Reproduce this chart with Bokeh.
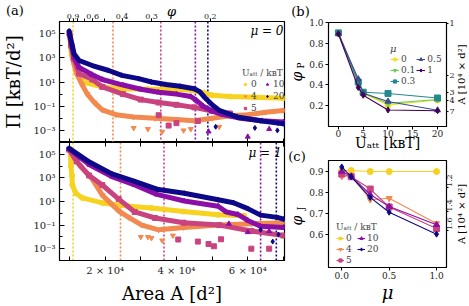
import math
from bokeh.plotting import figure
from bokeh.layouts import row, column
from bokeh.models import (Range1d, LinearAxis, LogAxis, FixedTicker, CustomJSTickFormatter,
                          Label, Legend, LegendItem, Span)
from bokeh.core.properties import value
from bokeh.embed import file_html
from bokeh.resources import INLINE

# ======================= DATA =======================
U_att = [0, 4, 5, 10, 20]
U_labels = ["0", "4", "5", "10", "20"]
mu_vals = [0, 0.1, 0.3, 0.5, 1.0]
mu_labels = ["0", "0.1", "0.3", "0.5", "1"]

# (a) upper: mu = 0, area A [d^2] vs pressure Pi [kBT/d^2]
A_m0_u0 = [10000, 10300, 10600, 11300, 12000, 12700, 14500, 19000, 25000, 32000, 39000, 44000, 47500, 50000, 55000, 62000, 70000]
P_m0_u0 = [1.0e5, 1.0e4, 1.6e3, 3.2e2, 63, 25, 8.9, 4.0, 2.8, 2.5, 2.5, 2.2, 1.3, 0.8, 0.63, 0.54, 0.45]
A_m0_u4 = [10000, 10500, 11000, 12000, 13500, 15000, 17000, 19200, 23000, 28000, 34000, 40000, 45000, 50000, 55000, 60000, 65000, 70000]
P_m0_u4 = [1.0e5, 6.3e3, 6.3e2, 50, 6.3, 1.0, 0.2, 0.05, 0.02, 0.013, 0.01, 0.008, 0.0063, 0.01, 0.016, 0.02, 0.032, 0.045]
A_m0_u5 = [10000, 10500, 11300, 12700, 16400, 19200, 25000, 30000, 35000, 40000, 45000, 50000, 55000]
P_m0_u5 = [1.0e5, 1.0e4, 8.0e2, 50, 16, 4.0, 1.0, 0.35, 0.2, 0.13, 0.08, 0.04, 0.025]
A_m0_u10 = [10000, 10500, 11300, 12700, 16400, 19200, 25000, 30000, 35000, 40000, 44000, 45500, 47500, 50000, 53000, 58000, 64000, 70000]
P_m0_u10 = [1.0e5, 1.6e4, 1.1e3, 1.6e2, 40, 16, 5.6, 2.5, 1.4, 1.0, 0.63, 0.32, 0.1, 0.04, 0.02, 0.01, 0.0063, 0.005]
A_m0_u20 = [9900, 10300, 10800, 11300, 12700, 16400, 21000, 24700, 29400, 33000, 37000, 41000, 45000, 46500, 48000, 50000, 52000, 57000, 63500, 68500, 70000]
P_m0_u20 = [1.6e5, 4.0e4, 1.0e4, 2.1e3, 6.0e2, 2.3e2, 89, 35, 19, 10, 6.3, 4.5, 2.8, 1.6, 0.5, 0.13, 0.045, 0.013, 0.0063, 0.004, 0.0035]
# scattered low points (mu = 0)
A_m0_u4_out = [28000, 32000, 36000, 42000, 44000, 52000]
P_m0_u4_out = [0.0016, 0.0013, 0.0008, 0.001, 0.0013, 0.002]
A_m0_u5_out = [35000, 37800, 40000, 46000]
P_m0_u5_out = [0.018, 0.0025, 0.004, 0.006]
A_m0_u10_out = [49000, 60000, 66000]
P_m0_u10_out = [0.0008, 0.0003, 0.0013]
A_m0_u20_out = [51000, 62000, 68300]
P_m0_u20_out = [0.002, 0.0016, 0.001]

# (a) lower: mu = 1
A_m1_u0 = [10300, 10400, 10700, 10800, 11800, 13600, 19200, 26600, 33000, 42000, 51600, 59000]
P_m1_u0 = [8.0e4, 1.0e4, 1.6e3, 2.5e2, 50, 20, 7.6, 4.0, 2.8, 1.4, 0.74, 0.63]
A_m1_u4 = [9900, 13000, 16400, 19200, 23800, 26600, 30300, 35000, 42000, 52000, 61000, 70000]
P_m1_u4 = [2.5e5, 1.0e4, 7.9e2, 35, 1.6, 0.45, 0.1, 0.04, 0.063, 0.1, 0.13, 0.16]
A_m1_u5 = [9900, 12000, 15500, 19200, 23800, 28300, 34000, 42000, 52000, 61000, 70000]
P_m1_u5 = [2.5e5, 2.5e4, 1.6e3, 2.5e2, 16, 1.3, 0.4, 0.16, 0.1, 0.032, 0.013]
A_m1_u10 = [9900, 15600, 21900, 28300, 34500, 42200, 51700, 54000, 57200, 60000, 63600, 70000]
P_m1_u10 = [2.8e5, 1.3e4, 1.3e3, 2.5e2, 40, 11, 4.0, 1.3, 0.8, 0.25, 0.08, 0.063]
A_m1_u20 = [9900, 15600, 21900, 28300, 34500, 42200, 51700, 56000, 60000, 63600, 68300, 70000]
P_m1_u20 = [3.2e5, 2.2e4, 2.2e3, 5.0e2, 1.1e2, 50, 14, 7.9, 2.5, 0.7, 0.45, 0.32]
A_m1_u4_out = [30000, 32000, 33000, 36000, 39000]
P_m1_u4_out = [0.01, 0.01, 0.008, 0.005, 0.013]
A_m1_u5_out = [40500, 46000, 49000, 50500, 52500, 61000, 66000]
P_m1_u5_out = [0.006, 0.004, 0.0025, 0.0016, 0.0063, 0.001, 0.001]
A_m1_u10_out = [54700, 60000, 66000]
P_m1_u10_out = [0.13, 0.025, 0.03]
A_m1_u20_out = [63600, 67000, 68600]
P_m1_u20_out = [0.04, 0.004, 0.016]

# dotted vertical markers (jamming areas)
vline_A_m0 = [11000, 22200, 35600, 45300, 48800]
vline_A_m1 = [11000, 24300, 36500, 63600, 68000]

# (b) phi_P vs U_att for each mu
phiP_mu0 = [0.90, 0.42, 0.32, 0.207, 0.255]
phiP_mu01 = [0.90, 0.41, 0.325, 0.222, 0.26]
phiP_mu03 = [0.90, 0.427, 0.33, 0.318, 0.274]
phiP_mu05 = [0.895, 0.456, 0.32, 0.241, 0.157]
phiP_mu1 = [0.89, 0.375, 0.30, 0.159, 0.152]

# (c) phi_J vs mu for each U_att
phiJ_U0 = [0.905, 0.905, 0.90, 0.90, 0.90]
phiJ_U4 = [0.877, 0.88, 0.765, 0.772, 0.651]
phiJ_U5 = [0.888, 0.875, 0.816, 0.73, 0.627]
phiJ_U10 = [0.90, 0.878, 0.79, 0.732, 0.645]
phiJ_U20 = [0.922, 0.875, 0.776, 0.705, 0.60]

# ticks
Pi_ticks = [1e5, 1e3, 1e1, 1e-1, 1e-3]
Pi_tick_labels = ["10⁵", "10³", "10¹", "10⁻¹", "10⁻³"]
Pi_minor = [1e4, 1e2, 1e0, 1e-2]
A_ticks = [20000, 40000, 60000]
A_tick_labels = ["2 × 10⁴", "4 × 10⁴", "6 × 10⁴"]
A_minor = [10000, 30000, 50000, 70000]
phi_top = [1.0, 0.9, 0.8, 0.7, 0.6, 0.5, 0.4, 0.3, 0.2]
phi_top_labels = ["", "0.9", "", "", "0.6", "", "0.4", "0.3", "0.2"]
AREA_PHI = 9900          # A * phi  [d^2]
b_xticks = [0, 5, 10, 15, 20]
b_yticks = [0.2, 0.4, 0.6, 0.8, 1.0]
b_Aticks = [1, 2, 3, 4, 7]          # 10^4 d^2
c_xticks = [0.0, 0.5, 1.0]
c_yticks = [0.6, 0.7, 0.8, 0.9]
c_Aticks = [1.2, 1.4, 1.6]

# ======================= STYLE =======================
FONT = "DejaVu Serif"
COL_U = ["#f7d21e", "#f28a50", "#c9447f", "#8b0fa6", "#0d0887"]
MRK_U = ["circle", "inverted_triangle", "square", "triangle", "diamond"]
COL_MU = ["#f5dd1c", "#6fcc5a", "#23898e", "#3d4d8a", "#440154"]
MRK_MU = ["circle", "inverted_triangle", "square", "triangle", "diamond"]

FMT = """
for (let i = 0; i < tv.length; i++) {
  if (Math.abs(tv[i] - tick) <= 1e-9 * Math.max(1, Math.abs(tv[i]))) return tl[i];
}
return "";
"""


def mkfig(w, h, xr, yr, l, r, t, b, ylog=False):
    p = figure(width=w, height=h, x_range=Range1d(*xr), y_range=Range1d(*yr),
               y_axis_type="log" if ylog else "linear",
               x_axis_location=None, y_axis_location=None,
               output_backend="svg", toolbar_location=None,
               min_border_left=l, min_border_right=r, min_border_top=t, min_border_bottom=b,
               background_fill_color="white", border_fill_color="white")
    p.outline_line_color = "black"
    p.outline_line_width = 1.2
    p.grid.visible = False
    return p


def mkaxis(kind, ticks, labels, minor=(), tin=0, tout=3, mtin=0, mtout=0,
           size="9px", standoff=2, orient=None, title=None, tsize="14px", tstyle="normal",
           tstand=0):
    ax = kind(ticker=FixedTicker(ticks=list(ticks), minor_ticks=list(minor)),
              formatter=CustomJSTickFormatter(args=dict(tv=list(ticks), tl=list(labels)), code=FMT))
    ax.major_tick_in = tin
    ax.major_tick_out = tout
    ax.minor_tick_in = mtin
    ax.minor_tick_out = mtout
    ax.major_label_text_font = FONT
    ax.major_label_text_font_size = size
    ax.major_label_standoff = standoff
    ax.major_label_text_color = "#222222"
    ax.axis_line_color = "black"
    ax.major_tick_line_color = "black"
    ax.minor_tick_line_color = "black"
    if orient is not None:
        ax.major_label_orientation = orient
    if title is not None:
        ax.axis_label = title
        ax.axis_label_text_font = FONT
        ax.axis_label_text_font_size = tsize
        ax.axis_label_text_font_style = tstyle
        ax.axis_label_text_color = "black"
        ax.axis_label_standoff = tstand
    return ax


def to_data(fr, px, py):
    # fr: (frame_left, frame_top, frame_w, frame_h, x0, x1, y0, y1, ylog) in canvas px
    fl, ft, fw, fh, x0, x1, y0, y1, ylog = fr
    x = x0 + (px - fl) / fw * (x1 - x0)
    f = (ft + fh - py) / fh
    if ylog:
        y = 10 ** (math.log10(y0) + f * (math.log10(y1) - math.log10(y0)))
    else:
        y = y0 + f * (y1 - y0)
    return x, y


def add_label(p, fr, px, py, text, size, style="normal", align="center"):
    x, y = to_data(fr, px, py)
    p.add_layout(Label(x=x, y=y, text=text, text_font=FONT, text_font_size=f"{size}px",
                       text_font_style=style, text_align=align,
                       text_baseline="middle", text_color="black"))


def add_text(p, fr, px, py, text, size, style="normal", angle=0.0, align="center"):
    x, y = to_data(fr, px, py)
    p.text(x=[x], y=[y], text=[text], text_font=value(FONT), text_font_size=value(f"{size}px"),
           text_font_style=value(style), angle=angle, text_align=value(align),
           text_baseline=value("middle"), text_color="black", level="overlay")


# ======================= PANEL (a) =======================
AX = (7200, 70300)
PY = (1e-4, 1e6)
WA = 287
fa_top = (57, 21, 227, 121, AX[0], AX[1], PY[0], PY[1], True)
fa_bot = (57, 0, 227, 121, AX[0], AX[1], PY[0], PY[1], True)

pa1 = mkfig(WA, 142, AX, PY, 57, 3, 21, 0, ylog=True)
pa2 = mkfig(WA, 164, AX, PY, 57, 3, 0, 43, ylog=True)

pa1.add_layout(mkaxis(LogAxis, Pi_ticks, Pi_tick_labels, Pi_minor, tin=5, tout=0, mtin=3,
                      size="10px", standoff=4, title="Π [kʙT/d²]", tsize="18px", tstand=6), "left")
pa2.add_layout(mkaxis(LogAxis, Pi_ticks, Pi_tick_labels, Pi_minor, tin=5, tout=0, mtin=3,
                      size="10px", standoff=4), "left")

pa1.add_layout(mkaxis(LinearAxis, A_ticks, ["", "", ""], A_minor, tin=4, tout=0, mtin=4,
                      size="0px", standoff=0), "below")
pa2.add_layout(mkaxis(LinearAxis, A_ticks, ["", "", ""], A_minor, tin=4, tout=0, mtin=4,
                      size="0px", standoff=0), "above")
pa2.add_layout(mkaxis(LinearAxis, A_ticks, A_tick_labels, A_minor, tin=4, tout=0, mtin=4,
                      size="10px", standoff=4, title="Area A [d²]", tsize="18px", tstand=4), "below")
phi_pos = [AREA_PHI / f for f in phi_top]
pa1.add_layout(mkaxis(LinearAxis, phi_pos, phi_top_labels, tin=0, tout=3,
                      size="8px", standoff=0), "above")

sets_m0 = [(A_m0_u0, P_m0_u0, [], []), (A_m0_u4, P_m0_u4, A_m0_u4_out, P_m0_u4_out),
           (A_m0_u5, P_m0_u5, A_m0_u5_out, P_m0_u5_out), (A_m0_u10, P_m0_u10, A_m0_u10_out, P_m0_u10_out),
           (A_m0_u20, P_m0_u20, A_m0_u20_out, P_m0_u20_out)]
sets_m1 = [(A_m1_u0, P_m1_u0, [], []), (A_m1_u4, P_m1_u4, A_m1_u4_out, P_m1_u4_out),
           (A_m1_u5, P_m1_u5, A_m1_u5_out, P_m1_u5_out), (A_m1_u10, P_m1_u10, A_m1_u10_out, P_m1_u10_out),
           (A_m1_u20, P_m1_u20, A_m1_u20_out, P_m1_u20_out)]

leg_a = []
for p, sets, vls in ((pa1, sets_m0, vline_A_m0), (pa2, sets_m1, vline_A_m1)):
    for i, loc in enumerate(vls):
        p.add_layout(Span(location=loc, dimension="height", line_color=COL_U[i],
                          line_dash="2 2", line_width=1.6, level="underlay"))
    for i, (ax_, py_, ox, oy) in enumerate(sets):
        p.line(ax_, py_, line_color=COL_U[i], line_width=5, line_join="round", line_cap="round")
        r = p.scatter(ax_, py_, marker=MRK_U[i], size=5, color=COL_U[i])
        if ox:
            p.scatter(ox, oy, marker=MRK_U[i], size=5, color=COL_U[i])
        if p is pa1:
            leg_a.append(LegendItem(label=U_labels[i], renderers=[r]))

lega = Legend(items=leg_a, location=(183, 29), orientation="vertical", nrows=3,
              title="Uₐₜₜ / kʙT", title_text_font=FONT, title_text_font_size="9px",
              title_text_font_style="normal", title_standoff=1,
              label_text_font=FONT, label_text_font_size="9px",
              glyph_width=6, glyph_height=8, label_height=8, label_width=11,
              label_standoff=3, spacing=2, padding=0, margin=0,
              border_line_alpha=0, background_fill_alpha=0)
pa1.add_layout(lega)

add_label(pa1, fa_top, 283, 30, "μ = 0", 12, style="italic", align="right")
add_label(pa2, fa_bot, 281, 11, "μ = 1", 12, style="italic", align="right")
add_text(pa1, fa_top, 12, 10, "(a)", 13)
add_text(pa1, fa_top, 170, 11, "φ", 13, style="italic")

# ======================= PANEL (b) =======================
BX = (-2, 21.8)
BY = (0.0, 1.0)
WB = 182
fb = (41, 22, 118, 104, BX[0], BX[1], BY[0], BY[1], False)
pb = mkfig(WB, 150, BX, BY, 41, 23, 22, 24)
pb.add_layout(mkaxis(LinearAxis, b_xticks, [str(v) for v in b_xticks], tout=3, standoff=0), "below")
pb.add_layout(mkaxis(LinearAxis, b_yticks, [f"{v:.1f}" for v in b_yticks], tout=3, standoff=2), "left")
pb.add_layout(mkaxis(LinearAxis, [AREA_PHI / 1e4 / a for a in b_Aticks], [str(a) for a in b_Aticks],
                     tout=2, size="8px", standoff=1), "right")

leg_b = []
for i, ys in enumerate([phiP_mu0, phiP_mu01, phiP_mu03, phiP_mu05, phiP_mu1]):
    rl = pb.line(U_att, ys, line_color=COL_MU[i], line_width=1.1)
    rs = pb.scatter(U_att, ys, marker=MRK_MU[i], size=6, color=COL_MU[i])
    leg_b.append(LegendItem(label=mu_labels[i], renderers=[rl, rs]))
legb = Legend(items=leg_b, location=(62, 40), orientation="vertical", nrows=3,
              title="μ", title_text_font=FONT, title_text_font_size="10px",
              title_text_font_style="italic", title_standoff=0,
              label_text_font=FONT, label_text_font_size="9px",
              glyph_width=9, glyph_height=8, label_height=8, label_width=10,
              label_standoff=2, spacing=1, padding=0, margin=0,
              border_line_alpha=0, background_fill_alpha=0)
pb.add_layout(legb)

add_text(pb, fb, 13, 11, "(b)", 13)
add_text(pb, fb, 9, 76, "φ", 14, style="italic", angle=math.pi / 2)
add_text(pb, fb, 13, 65, "P", 9, angle=math.pi / 2)
add_text(pb, fb, 100, 142, "Uₐₜₜ [kʙT]", 14)
add_text(pb, fb, 174, 74, "A [10⁴ × d²]", 10, angle=math.pi / 2)

# ======================= PANEL (c) =======================
CX = (-0.14, 1.105)
CY = (0.44, 0.953)
fc = (41, 10, 118, 107, CX[0], CX[1], CY[0], CY[1], False)
pc = mkfig(WB, 156, CX, CY, 41, 23, 10, 39)
pc.add_layout(mkaxis(LinearAxis, c_xticks, [f"{v:.1f}" for v in c_xticks], tout=3, standoff=1,
                     title="μ", tsize="18px", tstyle="italic", tstand=0), "below")
pc.add_layout(mkaxis(LinearAxis, c_yticks, [f"{v:.1f}" for v in c_yticks], tout=3, standoff=2), "left")
pc.add_layout(mkaxis(LinearAxis, [AREA_PHI / 1e4 / a for a in c_Aticks], [f"{a:.1f}" for a in c_Aticks],
                     tout=2, size="8px", standoff=1, orient=math.pi / 2), "right")

leg_c = []
for i, ys in enumerate([phiJ_U0, phiJ_U4, phiJ_U5, phiJ_U10, phiJ_U20]):
    rl = pc.line(mu_vals, ys, line_color=COL_U[i], line_width=1.1)
    rs = pc.scatter(mu_vals, ys, marker=MRK_U[i], size=6, color=COL_U[i])
    leg_c.append(LegendItem(label=U_labels[i], renderers=[rl, rs]))
legc = Legend(items=leg_c, location=(8, 2), orientation="vertical", nrows=3,
              title="Uₐₜₜ / kʙT", title_text_font=FONT, title_text_font_size="9px",
              title_text_font_style="normal", title_standoff=1,
              label_text_font=FONT, label_text_font_size="9px",
              glyph_width=8, glyph_height=8, label_height=8, label_width=10,
              label_standoff=2, spacing=1, padding=0, margin=0,
              border_line_alpha=0, background_fill_alpha=0)
pc.add_layout(legc)

add_text(pc, fc, 9.5, 5.5, "(c)", 13)
add_text(pc, fc, 9, 70, "φ", 14, style="italic", angle=math.pi / 2)
add_text(pc, fc, 13, 58, "J", 9, angle=math.pi / 2)
add_text(pc, fc, 174, 63.5, "A [10⁴ × d²]", 10, angle=math.pi / 2)

layout = row(column(pa1, pa2, spacing=0), column(pb, pc, spacing=0), spacing=0)
open("out.html", "w").write(file_html(layout, INLINE))
